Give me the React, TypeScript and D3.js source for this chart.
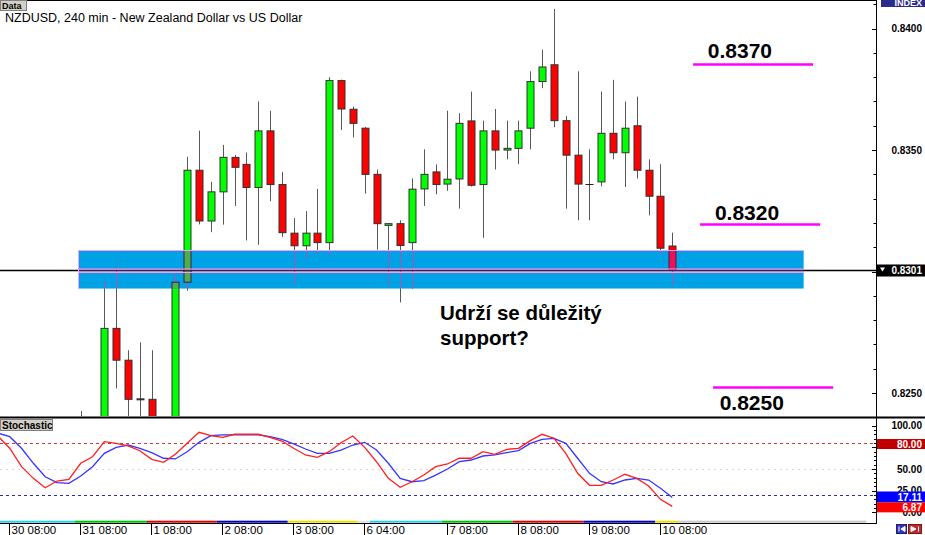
import React from "react";
import * as d3 from "d3";

// ---------- DATA ----------
const opens = [0.8238, 0.8236, 0.8237, 0.82766, 0.82635, 0.82476, 0.82474, 0.8235, 0.8238, 0.82956,
  0.83417, 0.83208, 0.83328, 0.8347, 0.83441, 0.83346, 0.83579, 0.83358, 0.83158, 0.83106,
  0.83158, 0.83119, 0.83786, 0.83668, 0.8359, 0.834, 0.8319, 0.83197, 0.83119, 0.8334,
  0.8341, 0.8336, 0.83381, 0.8362, 0.83358, 0.83579, 0.835, 0.83507, 0.8359, 0.83782,
  0.83851, 0.83621, 0.83479, 0.83361, 0.83369, 0.83569, 0.83489, 0.836, 0.83417, 0.8331, 0.83105];
const highs = [0.82426, 0.82405, 0.82959, 0.83021, 0.82676, 0.82708, 0.82676, 0.82405, 0.8299, 0.83472,
  0.8358, 0.83369, 0.83521, 0.8348, 0.8349, 0.837, 0.83662, 0.8341, 0.8322, 0.83249,
  0.8334, 0.838, 0.8379, 0.83679, 0.83595, 0.8342, 0.83199, 0.83211, 0.83383, 0.83503,
  0.83441, 0.83662, 0.83652, 0.83741, 0.83621, 0.83669, 0.83621, 0.83621, 0.83824, 0.83913,
  0.84081, 0.8364, 0.83824, 0.83503, 0.83741, 0.83789, 0.837, 0.8372, 0.83462, 0.83442, 0.8316];
const lows = [0.823, 0.823, 0.8234, 0.82519, 0.8236, 0.8236, 0.8232, 0.8231, 0.8236, 0.82921,
  0.83194, 0.83162, 0.83193, 0.8327, 0.83128, 0.8311, 0.8329, 0.83142, 0.82949, 0.8305,
  0.8307, 0.83069, 0.83583, 0.83552, 0.83321, 0.8309, 0.82942, 0.82873, 0.82929, 0.8327,
  0.83318, 0.83332, 0.83259, 0.8335, 0.83139, 0.8342, 0.83462, 0.83442, 0.83503, 0.83755,
  0.83594, 0.83259, 0.83211, 0.83211, 0.83351, 0.83462, 0.83348, 0.83383, 0.83231, 0.8307, 0.82942];
const closes = [0.8235, 0.8238, 0.82766, 0.82635, 0.82474, 0.82472, 0.8236, 0.8238, 0.82956, 0.83417,
  0.83208, 0.83328, 0.8347, 0.83429, 0.83346, 0.83579, 0.83358, 0.8316, 0.83106, 0.83158,
  0.83119, 0.83786, 0.83669, 0.8361, 0.834, 0.83197, 0.83197, 0.83107, 0.83339, 0.834,
  0.83358, 0.8338, 0.8361, 0.83355, 0.83579, 0.835, 0.83507, 0.83579, 0.83782, 0.83842,
  0.83621, 0.83479, 0.8336, 0.83359, 0.83569, 0.83489, 0.8359, 0.83417, 0.8331, 0.83096, 0.83007];

// stochastic, first value is 7 bars before the first candle above
const stochStart = -7;
const stochK = [88, 74, 52.7, 39.2, 28.4, 36.1, 38.1,
  56.6, 64.2, 81.5, 79.7, 76.6, 71.1, 61.2, 57.7, 67, 79.7,
  92.4, 88.5, 86.6, 90.1, 90.1, 90.1, 86.6, 82.3, 73.9, 66.2,
  63.5, 70, 80.4, 88.1, 75, 58.4, 39.2, 28.9, 35.3, 43.1,
  52.7, 55.8, 62.4, 62.4, 70, 67, 72.7, 73.9, 82.7, 90.1,
  85.5, 68.1, 45, 31.2, 31.2, 37.3, 43.9, 39.2, 30.4, 15, 6.87];
const stochD = [91.5, 87.3, 73.9, 56.6, 41.1, 34.2, 33.4,
  41.9, 52.7, 68.1, 75, 77.7, 73.9, 68.9, 62.4, 61.6, 70,
  80.8, 88.5, 89.3, 89.3, 89.3, 89.3, 87.3, 84.3, 78.9, 73.1,
  68.1, 68.1, 71.9, 77.7, 80.8, 71.9, 56.6, 39.2, 35.3, 36.5,
  43, 50, 58.4, 60.4, 65, 66.2, 68.9, 71.2, 79.6, 84.3,
  85.4, 79.6, 62.4, 45, 35.3, 32.7, 37.3, 39.2, 37.3, 27.7, 17.11];

const timeLabels = ["30 08:00", "31 08:00", "1 08:00", "2 08:00", "3 08:00", "6 04:00", "7 08:00", "8 08:00", "9 08:00", "10 08:00"];
const timeLabelIdx = [-6, 0, 6, 12, 18, 24, 31, 37, 43, 49];

const dayStrip = [
  { from: -7.5, to: -0.5, color: "#30CCEE" },
  { from: -0.5, to: 5.6, color: "#00C000" },
  { from: 5.6, to: 11.5, color: "#E00000" },
  { from: 11.5, to: 17.5, color: "#0000CC" },
  { from: 17.5, to: 23.4, color: "#EEDD00" },
  { from: 23.4, to: 24.45, color: "#E0E0E0" },
  { from: 24.45, to: 30.5, color: "#30CCEE" },
  { from: 30.5, to: 36.5, color: "#00C000" },
  { from: 36.5, to: 42.5, color: "#E00000" },
  { from: 42.5, to: 48.55, color: "#0000CC" },
  { from: 48.55, to: 50.5, color: "#EEDD00" },
  { from: 50.5, to: 66.4, color: "#C8C8C8" },
];

const priceLabels = [0.84, 0.835, 0.825];
const currentPrice = 0.8301;
const bandHigh = 0.83088;
const bandLow = 0.8293;
const bandFrom = -0.2;
const bandTo = 61.1;

const levelPrices = [0.83852, 0.831936, 0.825226];
const levelFrom = [51.76, 52.35, 53.45];
const levelTo = [61.9, 62.5, 63.6];
const levelTexts = ["0.8370", "0.8320", "0.8250"];
const levelTextIdx = [53.0, 53.6, 54.0];
const levelTextPrice = [0.83878, 0.83214, 0.82428];

const noteLines = ["Udrží se důležitý", "support?"];

const stochLevels = [80, 50, 20];
const stochAxisLabels = [100, 50, 25, 0];

// ---------- COMPONENT ----------
const MAIN_RIGHT = 876;
const MAIN_BOTTOM = 416;

type Pal = { up: string; down: string; wick: string; edge: string; doji: string };

function Candles({ x, y, pal }: { x: any; y: any; pal: Pal }) {
  return (
    <g>
      {opens.map((o, i) => {
        const c = closes[i];
        const cx = Math.round(x(i)) + 0.5;
        const top = y(Math.max(o, c));
        const bot = y(Math.min(o, c));
        const doji = Math.abs(o - c) < 0.00004;
        return (
          <g key={i}>
            <line x1={cx} x2={cx} y1={y(highs[i])} y2={y(lows[i])} stroke={pal.wick} strokeWidth={1} />
            {doji ? (
              <line x1={cx - 4} x2={cx + 4} y1={Math.round(top) + 0.5} y2={Math.round(top) + 0.5} stroke={pal.doji} strokeWidth={1} />
            ) : (
              <rect x={cx - 3.5} y={top} width={7} height={Math.max(1, bot - top)}
                fill={c > o ? pal.up : pal.down} stroke={pal.edge} strokeWidth={1} />
            )}
          </g>
        );
      })}
    </g>
  );
}

export default function App() {
  const W = 925, H = 535;
  const x = d3.scaleLinear().domain([0, 50]).range([80.7, 672.3]);
  const y = d3.scaleLinear().domain([0.825, 0.84]).range([393, 28.6]);
  const ys = d3.scaleLinear().domain([0, 100]).range([512.3, 425.7]);

  const normal: Pal = { up: "#00FF00", down: "#FF0000", wick: "#585858", edge: "#303030", doji: "#202020" };
  const inBand: Pal = { up: "#4CAE4C", down: "#EA1258", wick: "#B050B8", edge: "#4A184A", doji: "#4A184A" };

  const stochLine = (arr: number[]) =>
    d3.line<number>()
      .x((_, i) => x(i + stochStart))
      .y((v) => ys(v))(arr) || "";

  const yLine = Math.round(y(currentPrice)) + 1.5;
  const bx0 = x(bandFrom), bx1 = x(bandTo);
  const byTop = y(bandHigh), byBot = y(bandLow);

  const ticks: number[] = d3.range(8240, 8411, 10).map((v) => v / 10000);
  const stochTicks = d3.range(0, 101, 5);

  const axisFont = "'Liberation Sans', Arial, sans-serif";

  return (
    <svg width={W} height={H} style={{ position: "absolute", left: 0, top: 0, background: "#fff" }}
      fontFamily={axisFont}>
      <defs>
        <clipPath id="mainClip"><rect x={0} y={1} width={MAIN_RIGHT} height={MAIN_BOTTOM - 1} /></clipPath>
        <clipPath id="bandClip"><rect x={bx0} y={byTop} width={bx1 - bx0} height={byBot - byTop} /></clipPath>
        <clipPath id="stochClip"><rect x={0} y={419} width={MAIN_RIGHT} height={101} /></clipPath>
        <clipPath id="indexClip"><rect x={881} y={0} width={44} height={7} /></clipPath>
      </defs>
      <rect x={0} y={0} width={W} height={H} fill="#fff" />

      {/* main panel */}
      <g clipPath="url(#mainClip)">
        <Candles x={x} y={y} pal={normal} />
        <line x1={0} x2={MAIN_RIGHT} y1={yLine} y2={yLine} stroke="#000" strokeWidth={1.5} />
        {/* support band: two stacked rectangles */}
        <rect x={bx0} y={byTop} width={bx1 - bx0} height={yLine - 1 - byTop} fill="#00A2E6" />
        <rect x={bx0} y={yLine + 1.5} width={bx1 - bx0} height={byBot - yLine - 1.5} fill="#00A2E6" />
        <g clipPath="url(#bandClip)">
          <Candles x={x} y={y} pal={inBand} />
        </g>
        <line x1={bx0} x2={bx1} y1={yLine} y2={yLine} stroke="#4E1858" strokeWidth={1.5} />
        <g stroke="#FF99FF" strokeWidth={1} fill="none">
          <line x1={bx0} x2={bx1} y1={Math.round(byTop) + 0.5} y2={Math.round(byTop) + 0.5} />
          <line x1={bx0} x2={bx1} y1={yLine - 1.5} y2={yLine - 1.5} />
          <line x1={bx0} x2={bx1} y1={yLine + 2} y2={yLine + 2} />
          <line x1={Math.round(bx0) + 0.5} x2={Math.round(bx0) + 0.5} y1={byTop} y2={byBot} />
        </g>

        {/* level annotations */}
        {levelPrices.map((p, i) => (
          <line key={"lv" + i} x1={x(levelFrom[i])} x2={x(levelTo[i])} y1={y(p)} y2={y(p)} stroke="#FF00FF" strokeWidth={2.5} />
        ))}
        {levelTexts.map((t, i) => (
          <text key={"lt" + i} x={x(levelTextIdx[i])} y={y(levelTextPrice[i])} fontSize={21} fontWeight="bold" fill="#000">{t}</text>
        ))}
        {noteLines.map((t, i) => (
          <text key={"nt" + i} x={440} y={320 + i * 25} fontSize={20.5} fontWeight="bold" fill="#000">{t}</text>
        ))}
      </g>

      {/* top border */}
      <line x1={0} x2={MAIN_RIGHT} y1={0.5} y2={0.5} stroke="#000" />
      {/* Data label */}
      <rect x={0.5} y={0.5} width={26} height={10} fill="#D4D0C8" stroke="#808080" />
      <text x={2} y={9} fontSize={9} fontWeight="bold" fill="#000">Data</text>
      <text x={5} y={22.3} fontSize={12.5} fill="#000">NZDUSD, 240 min - New Zealand Dollar vs US Dollar</text>

      {/* separator between panels */}
      <rect x={0} y={416.5} width={W} height={2} fill="#000" />

      {/* stochastic panel */}
      <g clipPath="url(#stochClip)">
        {stochLevels.map((lv) => (
          <line key={"sl" + lv} x1={0} x2={MAIN_RIGHT} y1={Math.round(ys(lv)) + 0.5} y2={Math.round(ys(lv)) + 0.5}
            stroke={lv === 80 ? "#D03A3A" : lv === 20 ? "#2A2AB0" : "#D8D8D8"}
            strokeDasharray={lv === 50 ? "2,4" : "3,3"} strokeWidth={1} />
        ))}
        <path d={stochLine(stochD)} fill="none" stroke="#3535FF" strokeWidth={1.3} />
        <path d={stochLine(stochK)} fill="none" stroke="#FF1E1E" strokeWidth={1.3} />
      </g>
      <rect x={0.5} y={419.5} width={52} height={11} fill="#D4D0C8" stroke="#808080" />
      <text x={2} y={428.5} fontSize={10} fontWeight="bold" fill="#000">Stochastic</text>

      {/* day colour strip + bottom border */}
      {dayStrip.map((s, i) => (
        <rect key={"ds" + i} x={Math.max(0, x(s.from))} y={520.7} width={x(s.to) - Math.max(0, x(s.from))} height={2} fill={s.color} />
      ))}
      <line x1={0} x2={MAIN_RIGHT + 1} y1={523.5} y2={523.5} stroke="#000" />

      {/* time axis */}
      {timeLabels.map((t, i) => {
        const sx = Math.round(x(timeLabelIdx[i]) - 0.6) + 0.5;
        return (
          <g key={"tl" + i}>
            <line x1={sx} x2={sx} y1={523} y2={535} stroke="#000" />
            <text x={sx + 2} y={533.5} fontSize={11.5} fill="#000">{t}</text>
          </g>
        );
      })}

      {/* right price axis */}
      <line x1={MAIN_RIGHT + 0.5} x2={MAIN_RIGHT + 0.5} y1={0} y2={524} stroke="#000" />
      {ticks.map((t) => {
        const yy = Math.round(y(t)) + 0.5;
        if (yy < 2 || yy > 415) return null;
        const major = Math.abs(Math.round(t * 10000) % 50) === 0;
        return <line key={"pt" + t} x1={major ? 872 : 873.5} x2={MAIN_RIGHT} y1={yy} y2={yy} stroke="#000" />;
      })}
      {priceLabels.map((p) => (
        <text key={"pl" + p} x={922} y={y(p) + 3.5} fontSize={10} fontWeight="bold" textAnchor="end" fill="#000">{p.toFixed(4)}</text>
      ))}
      <rect x={877} y={yLine - 6} width={48} height={12} fill="#000" />
      <path d={`M880,${yLine - 3} h5 l-2.5,4 z`} fill="#fff" />
      <text x={922} y={yLine + 3.5} fontSize={10} fontWeight="bold" textAnchor="end" fill="#fff">{currentPrice.toFixed(4)}</text>

      <g clipPath="url(#indexClip)">
        <rect x={881} y={0} width={44} height={7} fill="#2B2B8C" />
        <text x={922} y={6} fontSize={9} fontWeight="bold" textAnchor="end" fill="#fff">INDEX</text>
      </g>

      {/* stochastic axis */}
      {stochTicks.map((t) => {
        const yy = Math.round(ys(t)) + 0.5;
        const major = t % 25 === 0;
        return <line key={"st" + t} x1={major ? 872 : 874} x2={MAIN_RIGHT} y1={yy} y2={yy} stroke="#000" />;
      })}
      {stochAxisLabels.map((v) => (
        <text key={"sal" + v} x={922} y={ys(v) + 3.5} fontSize={10} fontWeight="bold" textAnchor="end" fill="#000">{v.toFixed(2)}</text>
      ))}
      <rect x={877} y={ys(80) - 4} width={48} height={10} fill="#C00000" />
      <text x={922} y={ys(80) + 4.5} fontSize={10} fontWeight="bold" textAnchor="end" fill="#fff">80.00</text>
      <rect x={877} y={ys(stochD[stochD.length - 1]) - 6} width={48} height={11} fill="#0000FF" />
      <text x={922} y={ys(stochD[stochD.length - 1]) + 3.5} fontSize={10} fontWeight="bold" textAnchor="end" fill="#fff">{stochD[stochD.length - 1].toFixed(2)}</text>
      <rect x={877} y={ys(stochK[stochK.length - 1]) - 4} width={48} height={10} fill="#FF0000" />
      <text x={922} y={ys(stochK[stochK.length - 1]) + 4.5} fontSize={10} fontWeight="bold" textAnchor="end" fill="#fff">{stochK[stochK.length - 1].toFixed(2)}</text>

      {/* bottom-right scroll buttons */}
      <rect x={896.5} y={524.5} width={10} height={9} fill="#3434B4" stroke="#20207A" />
      <path d="M899,526.5 v5 M905,526.5 l-4,2.5 l4,2.5 z" stroke="#fff" fill="#fff" strokeWidth={1} />
      <rect x={908.5} y={524.5} width={13} height={9} fill="#C02828" stroke="#7A1A1A" />
      <path d="M918.5,526.5 v5 M911,526.5 l5,2.5 l-5,2.5 z" stroke="#fff" fill="#fff" strokeWidth={1} />
    </svg>
  );
}
